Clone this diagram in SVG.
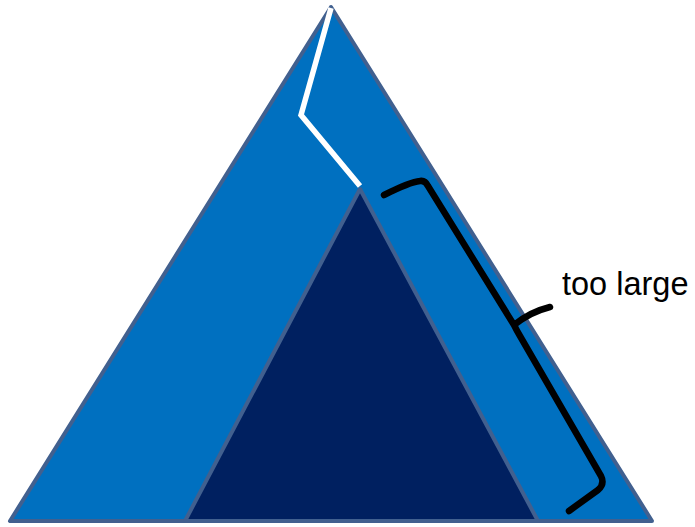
<svg xmlns="http://www.w3.org/2000/svg" width="695" height="527" viewBox="0 0 695 527">
<style>
.tri{stroke:#41608F;stroke-width:4;stroke-linejoin:round}
.brace{fill:none;stroke:#000;stroke-width:6.5;stroke-linejoin:round;stroke-linecap:round}
.lbl{font-family:"Liberation Sans",Arial,sans-serif;font-size:32.5px;fill:#000}
</style>
<rect width="695" height="527" fill="#fff"/>
<g id="outer-triangle">
<polygon class="tri" fill="#0070C0" points="331,7 10,521 652,521"/>
</g>
<g id="inner-triangle">
<polygon class="tri" fill="#002060" points="360,189 185,521 538,521"/>
</g>
<g id="connectors">
<polyline fill="none" stroke="#fff" stroke-width="5.5" points="331,8 301,115 360,186"/>
<path class="brace" d="M384,195 Q410,182 420,181 Q425,180 428,186 L514,325 Q530,312 550,307 M514,325 Q517,331 520,336 L601,476 Q605,484 598,490 L569,511"/>
</g>
<g id="label">
<text class="lbl" x="562" y="295">too large</text>
</g>
</svg>
